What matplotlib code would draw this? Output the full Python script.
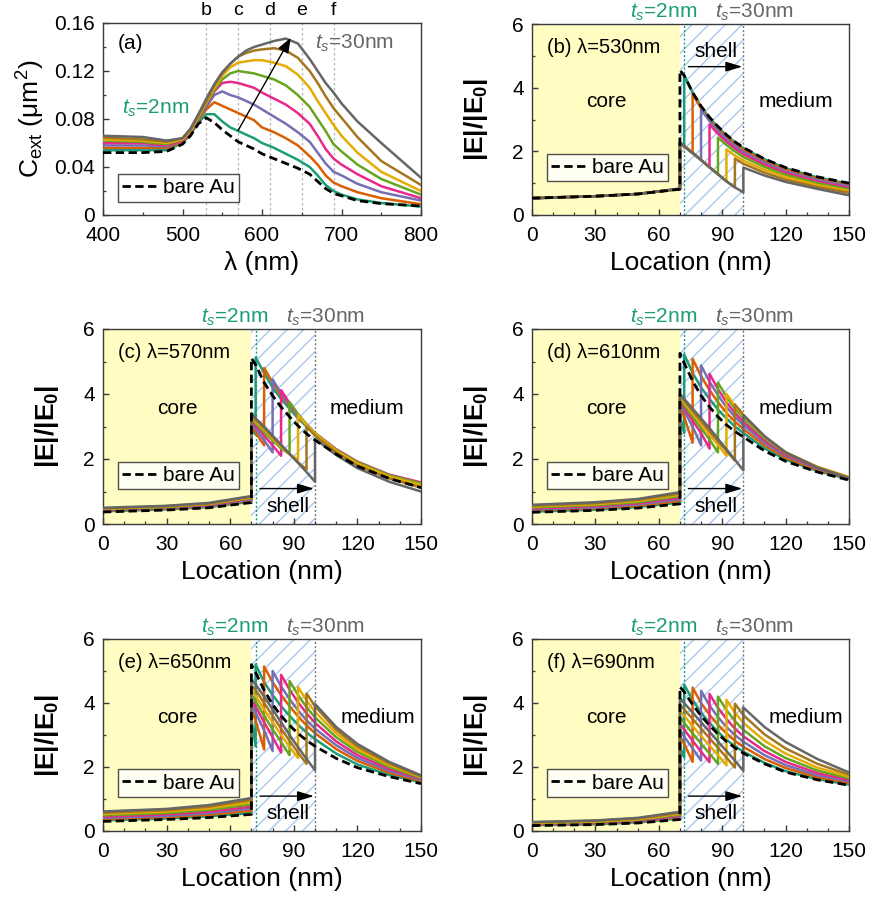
import matplotlib
matplotlib.use('Agg')
import matplotlib.pyplot as plt
import matplotlib.transforms as mtransforms
from matplotlib.ticker import MultipleLocator, FuncFormatter

plt.rcParams['font.family'] = ['Liberation Sans', 'DejaVu Sans']
plt.rcParams['mathtext.fontset'] = 'custom'
plt.rcParams['mathtext.rm'] = 'Liberation Sans'
plt.rcParams['mathtext.it'] = 'Liberation Sans:italic'
plt.rcParams['mathtext.bf'] = 'Liberation Sans:bold'
plt.rcParams['hatch.linewidth'] = 1.0

# ---------------- data ----------------
COLORS = ['#1b9e77', '#d95f02', '#7570b3', '#e7298a', '#66a61e', '#e6ab02', '#a6761d', '#666666']
TS = [2, 6, 10, 14, 18, 22, 26, 30]
CORE_R = 70
PANEL_LAMBDA = [530, 570, 610, 650, 690]
PANEL_LETTERS = ['b', 'c', 'd', 'e', 'f']

# panel (a): extinction spectra
LAM = [400, 450, 480, 500, 510, 520, 530, 540, 550, 560, 570, 580, 590, 600, 615, 630, 645, 660, 670, 680, 690, 700, 720, 750, 800]
CEXT_BARE = [.052, .052, .053, .059, .066, .076, .081, .077, .071, .066, .061, .058, .055, .051, .047, .043, .039, .034, .028, .022, .018, .016, .012, .0095, .0075]
CEXT = [
    [.054, .054, .054, .060, .067, .077, .084, .084, .078, .073, .070, .067, .064, .060, .056, .051, .046, .040, .033, .025, .020, .017, .013, .010, .007],
    [.056, .056, .056, .061, .068, .079, .088, .094, .091, .088, .085, .082, .079, .073, .069, .064, .058, .049, .042, .033, .027, .024, .019, .014, .009],
    [.058, .058, .057, .062, .069, .080, .090, .100, .103, .100, .098, .095, .092, .088, .082, .076, .069, .061, .052, .043, .036, .033, .026, .019, .012],
    [.060, .060, .058, .062, .069, .081, .092, .103, .110, .111, .110, .108, .106, .102, .097, .092, .085, .076, .066, .055, .047, .042, .034, .024, .014],
    [.062, .061, .059, .063, .070, .081, .093, .104, .113, .118, .120, .119, .118, .116, .113, .108, .100, .090, .080, .070, .059, .053, .042, .030, .017],
    [.063, .062, .060, .063, .070, .082, .094, .106, .116, .123, .127, .128, .129, .129, .127, .124, .117, .106, .095, .085, .075, .066, .052, .036, .020],
    [.0645, .063, .061, .064, .071, .083, .095, .108, .118, .126, .132, .135, .137, .138, .139, .137, .131, .120, .110, .099, .089, .081, .065, .045, .025],
    [.066, .065, .062, .064, .072, .084, .097, .109, .119, .126, .132, .137, .140, .142, .145, .147, .143, .130, .120, .110, .102, .093, .078, .060, .031],
]

# panels (b)-(f): field profiles
CORE_X = [0, 30, 50, 70]
GRID_X = [70, 72, 76, 80, 84, 88, 92, 96, 100, 110, 120, 135, 150]

# rows: bare Au, then ts = 2 ... 30 nm
CORE_B = [[0.53, 0.59, 0.66, 0.81]] + [[0.53, 0.59, 0.66, 0.82]] * 7 + [[0.52, 0.59, 0.66, 0.83]]
SHELL_B = [
    [2.26, 2.15],
    [2.26, 2.15, 1.94],
    [2.27, 2.16, 1.94, 1.72],
    [2.27, 2.16, 1.95, 1.73, 1.50],
    [2.27, 2.16, 1.95, 1.73, 1.50, 1.28],
    [2.28, 2.17, 1.95, 1.73, 1.50, 1.28, 1.06],
    [2.28, 2.17, 1.95, 1.73, 1.50, 1.28, 1.06, 0.87],
    [2.28, 2.17, 1.95, 1.73, 1.50, 1.28, 1.06, 0.87, 0.71],
]
MED_B = [
    [4.55, 4.38, 3.85, 3.42, 3.07, 2.78, 2.52, 2.30, 2.12, 1.76, 1.49, 1.20, 1.00],
    [4.40, 3.85, 3.40, 3.05, 2.76, 2.50, 2.29, 2.10, 1.75, 1.47, 1.18, 0.98],
    [3.80, 3.35, 3.00, 2.70, 2.45, 2.24, 2.05, 1.70, 1.43, 1.14, 0.94],
    [3.31, 2.95, 2.64, 2.38, 2.17, 1.98, 1.64, 1.37, 1.10, 0.90],
    [2.84, 2.55, 2.30, 2.09, 1.91, 1.58, 1.32, 1.05, 0.85],
    [2.43, 2.20, 2.00, 1.82, 1.51, 1.26, 1.00, 0.80],
    [2.06, 1.87, 1.71, 1.42, 1.19, 0.94, 0.75],
    [1.77, 1.61, 1.33, 1.11, 0.88, 0.70],
    [1.49, 1.24, 1.04, 0.82, 0.62],
]

CORE_C = [
    [0.37, 0.43, 0.50, 0.66], [0.39, 0.45, 0.52, 0.69], [0.41, 0.47, 0.54, 0.72],
    [0.43, 0.49, 0.56, 0.75], [0.45, 0.51, 0.59, 0.78], [0.46, 0.52, 0.61, 0.80],
    [0.47, 0.54, 0.62, 0.82], [0.48, 0.55, 0.63, 0.84], [0.50, 0.56, 0.65, 0.86],
]
SHELL_C = [
    [2.90, 2.75],
    [3.00, 2.82, 2.42],
    [3.10, 2.93, 2.58, 2.20],
    [3.20, 3.03, 2.72, 2.42, 2.10],
    [3.25, 3.10, 2.82, 2.57, 2.33, 2.15],
    [3.30, 3.15, 2.90, 2.63, 2.38, 2.15, 1.98],
    [3.35, 3.20, 2.95, 2.68, 2.42, 2.15, 1.90, 1.68],
    [3.42, 3.25, 3.00, 2.72, 2.44, 2.16, 1.88, 1.60, 1.30],
]
MED_C = [
    [5.10, 4.90, 4.35, 3.95, 3.60, 3.30, 3.02, 2.78, 2.58, 2.15, 1.78, 1.40, 1.12],
    [5.12, 4.65, 4.20, 3.85, 3.55, 3.25, 3.00, 2.75, 2.25, 1.85, 1.45, 1.18],
    [4.80, 4.35, 3.95, 3.62, 3.30, 3.03, 2.78, 2.27, 1.88, 1.48, 1.22],
    [4.45, 4.02, 3.65, 3.32, 3.04, 2.78, 2.28, 1.90, 1.50, 1.25],
    [4.12, 3.72, 3.37, 3.06, 2.80, 2.30, 1.92, 1.52, 1.28],
    [3.75, 3.38, 3.07, 2.80, 2.28, 1.90, 1.50, 1.25],
    [3.35, 3.05, 2.78, 2.25, 1.86, 1.46, 1.20],
    [3.00, 2.72, 2.20, 1.80, 1.40, 1.12],
    [2.62, 2.12, 1.72, 1.30, 1.00],
]

CORE_D = [
    [0.36, 0.42, 0.49, 0.62], [0.38, 0.44, 0.52, 0.66], [0.42, 0.48, 0.56, 0.71],
    [0.45, 0.51, 0.60, 0.76], [0.48, 0.55, 0.64, 0.81], [0.51, 0.58, 0.67, 0.86],
    [0.54, 0.61, 0.71, 0.90], [0.56, 0.64, 0.74, 0.94], [0.59, 0.67, 0.77, 0.98],
]
SHELL_D = [
    [3.30, 2.80],
    [3.60, 3.30, 2.50],
    [3.70, 3.48, 3.00, 2.42],
    [3.78, 3.58, 3.18, 2.80, 2.32],
    [3.85, 3.66, 3.30, 2.95, 2.60, 2.20],
    [3.90, 3.74, 3.40, 3.07, 2.75, 2.43, 2.10],
    [3.95, 3.80, 3.48, 3.17, 2.86, 2.55, 2.25, 1.95],
    [4.00, 3.85, 3.55, 3.25, 2.95, 2.62, 2.30, 1.98, 1.65],
]
MED_D = [
    [5.25, 4.95, 4.40, 3.95, 3.60, 3.30, 3.05, 2.85, 2.68, 2.25, 1.93, 1.60, 1.35],
    [5.22, 4.65, 4.20, 3.85, 3.52, 3.25, 3.00, 2.80, 2.33, 1.98, 1.63, 1.38],
    [5.08, 4.55, 4.12, 3.75, 3.42, 3.15, 2.92, 2.42, 2.04, 1.67, 1.40],
    [4.88, 4.38, 3.96, 3.60, 3.30, 3.04, 2.50, 2.10, 1.71, 1.42],
    [4.62, 4.15, 3.75, 3.42, 3.14, 2.57, 2.14, 1.73, 1.43],
    [4.35, 3.92, 3.56, 3.25, 2.64, 2.18, 1.75, 1.44],
    [4.00, 3.64, 3.32, 2.68, 2.20, 1.76, 1.44],
    [3.68, 3.36, 2.70, 2.21, 1.75, 1.43],
    [3.35, 2.70, 2.20, 1.73, 1.40],
]

CORE_E = [
    [0.30, 0.36, 0.42, 0.52], [0.33, 0.39, 0.46, 0.56], [0.37, 0.43, 0.51, 0.63],
    [0.41, 0.47, 0.56, 0.70], [0.45, 0.52, 0.61, 0.76], [0.49, 0.56, 0.66, 0.83],
    [0.53, 0.61, 0.71, 0.90], [0.57, 0.65, 0.76, 0.97], [0.61, 0.69, 0.81, 1.03],
]
SHELL_E = [
    [3.50, 2.65],
    [3.80, 3.45, 2.55],
    [3.95, 3.70, 3.15, 2.50],
    [4.10, 3.88, 3.40, 2.93, 2.45],
    [4.25, 4.05, 3.60, 3.18, 2.78, 2.37],
    [4.40, 4.22, 3.80, 3.40, 3.00, 2.63, 2.28],
    [4.55, 4.40, 4.00, 3.60, 3.20, 2.82, 2.45, 2.10],
    [4.72, 4.58, 4.20, 3.80, 3.40, 3.00, 2.62, 2.25, 1.90],
]
MED_E = [
    [5.20, 4.95, 4.40, 3.95, 3.60, 3.30, 3.05, 2.83, 2.65, 2.27, 1.98, 1.70, 1.48],
    [5.20, 4.65, 4.25, 3.90, 3.60, 3.32, 3.08, 2.87, 2.42, 2.08, 1.75, 1.52],
    [5.14, 4.65, 4.25, 3.90, 3.58, 3.30, 3.06, 2.56, 2.19, 1.82, 1.56],
    [5.00, 4.52, 4.12, 3.77, 3.46, 3.20, 2.68, 2.28, 1.88, 1.60],
    [4.88, 4.42, 4.02, 3.68, 3.38, 2.80, 2.37, 1.94, 1.63],
    [4.69, 4.25, 3.87, 3.55, 2.93, 2.47, 2.00, 1.66],
    [4.50, 4.08, 3.72, 3.05, 2.55, 2.06, 1.69],
    [4.30, 3.90, 3.16, 2.64, 2.11, 1.71],
    [3.97, 3.25, 2.72, 2.16, 1.74],
]

CORE_F = [
    [0.17, 0.20, 0.25, 0.36], [0.18, 0.21, 0.27, 0.39], [0.20, 0.23, 0.29, 0.42],
    [0.21, 0.25, 0.31, 0.45], [0.22, 0.26, 0.33, 0.48], [0.24, 0.28, 0.35, 0.51],
    [0.25, 0.30, 0.37, 0.54], [0.27, 0.32, 0.39, 0.57], [0.28, 0.33, 0.41, 0.60],
]
SHELL_F = [
    [2.60, 2.30],
    [2.95, 2.73, 2.16],
    [3.15, 2.95, 2.58, 2.20],
    [3.35, 3.17, 2.82, 2.48, 2.15],
    [3.55, 3.38, 3.05, 2.73, 2.42, 2.10],
    [3.75, 3.60, 3.28, 2.97, 2.67, 2.37, 2.05],
    [3.95, 3.80, 3.50, 3.20, 2.90, 2.60, 2.30, 1.98],
    [4.15, 4.00, 3.70, 3.40, 3.10, 2.80, 2.50, 2.20, 1.88],
]
MED_F = [
    [4.50, 4.35, 3.95, 3.60, 3.30, 3.03, 2.80, 2.60, 2.43, 2.10, 1.84, 1.60, 1.43],
    [4.57, 4.10, 3.70, 3.38, 3.10, 2.85, 2.65, 2.48, 2.13, 1.87, 1.62, 1.45],
    [4.48, 4.00, 3.63, 3.32, 3.05, 2.82, 2.63, 2.25, 1.97, 1.68, 1.50],
    [4.38, 3.92, 3.56, 3.25, 3.00, 2.79, 2.37, 2.06, 1.74, 1.55],
    [4.28, 3.85, 3.50, 3.20, 2.96, 2.50, 2.16, 1.81, 1.60],
    [4.20, 3.78, 3.44, 3.16, 2.65, 2.28, 1.89, 1.65],
    [4.10, 3.70, 3.38, 2.82, 2.42, 1.98, 1.70],
    [3.98, 3.62, 3.02, 2.58, 2.10, 1.76],
    [3.86, 3.25, 2.78, 2.25, 1.83],
]

PANELS = [
    (CORE_B, SHELL_B, MED_B),
    (CORE_C, SHELL_C, MED_C),
    (CORE_D, SHELL_D, MED_D),
    (CORE_E, SHELL_E, MED_E),
    (CORE_F, SHELL_F, MED_F),
]

# ---------------- figure ----------------
W, H = 871, 898
fig = plt.figure(figsize=(W / 100, H / 100), dpi=100)

def frac(l, t, r, b):
    return [l / W, 1 - b / H, (r - l) / W, (b - t) / H]

AX_POS = {
    'a': frac(103, 23, 421, 215),
    'b': frac(532, 24, 849, 215),
    'c': frac(103, 329, 421, 524),
    'd': frac(532, 329, 849, 524),
    'e': frac(103, 639, 421, 831),
    'f': frac(532, 639, 849, 831),
}

TICK_FS = 15
LABEL_FS = 19
TEXT_FS = 15
DASH = (0, (3, 1.6))
LW = 1.8


def style_axes(ax):
    for s in ax.spines.values():
        s.set_color('#3a3a3a')
        s.set_linewidth(1.0)
    ax.tick_params(which='both', direction='in', top=False, right=False,
                   labelsize=TICK_FS, color='#3a3a3a')
    ax.tick_params(axis='x', which='both', pad=8)
    ax.tick_params(axis='y', which='both', pad=6)
    ax.tick_params(which='major', length=4.5, width=1.0)
    ax.tick_params(which='minor', length=2.5, width=0.9)


def add_legend(ax, anchor):
    h, = ax.plot([], [], color='k', ls=DASH, lw=2.0)
    leg = ax.legend([h], ['bare Au'], loc='lower left', bbox_to_anchor=anchor,
                    frameon=True, fancybox=False, fontsize=TEXT_FS, borderaxespad=0,
                    handlelength=1.7, handletextpad=0.25, borderpad=0.2)
    leg.get_frame().set_edgecolor('#222222')
    leg.get_frame().set_linewidth(1.0)
    leg.set_zorder(5)

# ---- panel (a) ----
ax = fig.add_axes(AX_POS['a'])
style_axes(ax)
for lam in PANEL_LAMBDA:
    ax.axvline(lam, color='#b5b5b5', ls=(0, (2, 2)), lw=0.9, zorder=1)
trans = mtransforms.blended_transform_factory(ax.transData, ax.transAxes)
for lam, let in zip(PANEL_LAMBDA, PANEL_LETTERS):
    ax.text(lam, 1.02, let, transform=trans, ha='center', va='bottom', fontsize=14)
for k in range(len(TS)):
    ax.plot(LAM, CEXT[k], color=COLORS[k], lw=LW, zorder=3)
ax.plot(LAM, CEXT_BARE, color='k', ls=DASH, lw=2.0, zorder=4)
ax.annotate('', xy=(636, 0.1475), xytext=(570, 0.0705),
            arrowprops=dict(arrowstyle='-|>,head_length=0.9,head_width=0.35', color='k', lw=1.0,
                            shrinkA=0, shrinkB=0), zorder=6)
ax.text(419, 0.143, '(a)', fontsize=TEXT_FS, va='center', ha='left')
ax.text(424, 0.089, r'$t_s$=2nm', fontsize=TEXT_FS, color=COLORS[0], va='center', ha='left')
ax.text(667, 0.143, r'$t_s$=30nm', fontsize=TEXT_FS, color=COLORS[-1], va='center', ha='left')
ax.set_xlim(400, 800)
ax.set_ylim(0, 0.16)
ax.xaxis.set_major_locator(MultipleLocator(100))
ax.xaxis.set_minor_locator(MultipleLocator(50))
ax.yaxis.set_major_locator(MultipleLocator(0.04))
ax.yaxis.set_minor_locator(MultipleLocator(0.02))
ax.yaxis.set_major_formatter(FuncFormatter(lambda v, p: '0' if abs(v) < 1e-9 else f'{v:.2f}'))
ax.set_xlabel('λ (nm)', fontsize=LABEL_FS, labelpad=4)
ax.set_ylabel(r'C$_{\mathrm{ext}}$ (μm$^2$)', fontsize=LABEL_FS, labelpad=5)
add_legend(ax, (0.047, 0.07))

# ---- panels (b)-(f) ----
SHELL_OUT = CORE_R + TS[-1]
for idx, (let, lam) in enumerate(zip(PANEL_LETTERS, PANEL_LAMBDA)):
    core, shells, meds = PANELS[idx]
    ax = fig.add_axes(AX_POS[let])
    style_axes(ax)
    ax.axvspan(0, CORE_R, color='#fffdc2', lw=0, zorder=0)
    ax.axvspan(CORE_R, SHELL_OUT, facecolor='none', edgecolor='#a9c8ea', hatch='//', lw=0, zorder=0)
    ax.axvline(CORE_R + TS[0], color=COLORS[0], ls=(0, (1.5, 1.5)), lw=1.0, zorder=1)
    ax.axvline(SHELL_OUT, color='#777777', ls=(0, (1.5, 1.5)), lw=1.0, zorder=1)

    for k, ts in enumerate(TS):
        j = GRID_X.index(CORE_R + ts)
        x = CORE_X + GRID_X[:j + 1] + GRID_X[j:]
        y = core[k + 1] + shells[k] + meds[k + 1]
        ax.plot(x, y, color=COLORS[k], lw=LW, zorder=3)
    ax.plot(CORE_X + GRID_X, core[0] + meds[0], color='k', ls=DASH, lw=2.0, zorder=4)

    trans = mtransforms.blended_transform_factory(ax.transData, ax.transAxes)
    ax.text(78, 1.005, r'$t_s$=2nm', transform=trans, color=COLORS[0], fontsize=TEXT_FS,
            ha='right', va='bottom')
    ax.text(86.5, 1.005, r'$t_s$=30nm', transform=trans, color=COLORS[-1], fontsize=TEXT_FS,
            ha='left', va='bottom')

    ax.text(7, 5.27, f'({let}) λ={lam}nm', fontsize=14.5, ha='left', va='center')
    ax.text(35, 3.55, 'core', fontsize=TEXT_FS, ha='center', va='center')
    mx = 124.7 if idx < 3 else 129.7
    ax.text(mx, 3.55, 'medium', fontsize=TEXT_FS, ha='center', va='center')
    if idx == 0:
        ay, sy = 4.66, 5.15
    else:
        ay, sy = 1.09, 0.55
    ax.annotate('', xy=(SHELL_OUT - 0.5, ay), xytext=(CORE_R + 4, ay),
                arrowprops=dict(arrowstyle='-|>,head_length=1.0,head_width=0.3', color='k', lw=1.0,
                                shrinkA=0, shrinkB=0), zorder=6)
    ax.text(87, sy, 'shell', fontsize=TEXT_FS, ha='center', va='center')

    ax.set_xlim(0, 150)
    ax.set_ylim(0, 6)
    ax.xaxis.set_major_locator(MultipleLocator(30))
    ax.xaxis.set_minor_locator(MultipleLocator(10))
    ax.yaxis.set_major_locator(MultipleLocator(2))
    ax.yaxis.set_minor_locator(MultipleLocator(1))
    ax.set_xlabel('Location (nm)', fontsize=LABEL_FS, labelpad=4)
    ax.set_ylabel(r'$\mathbf{|E|/|E_0|}$', fontsize=LABEL_FS, labelpad=16)
    add_legend(ax, (0.047, 0.178))

fig.savefig('out.png', dpi=100)
